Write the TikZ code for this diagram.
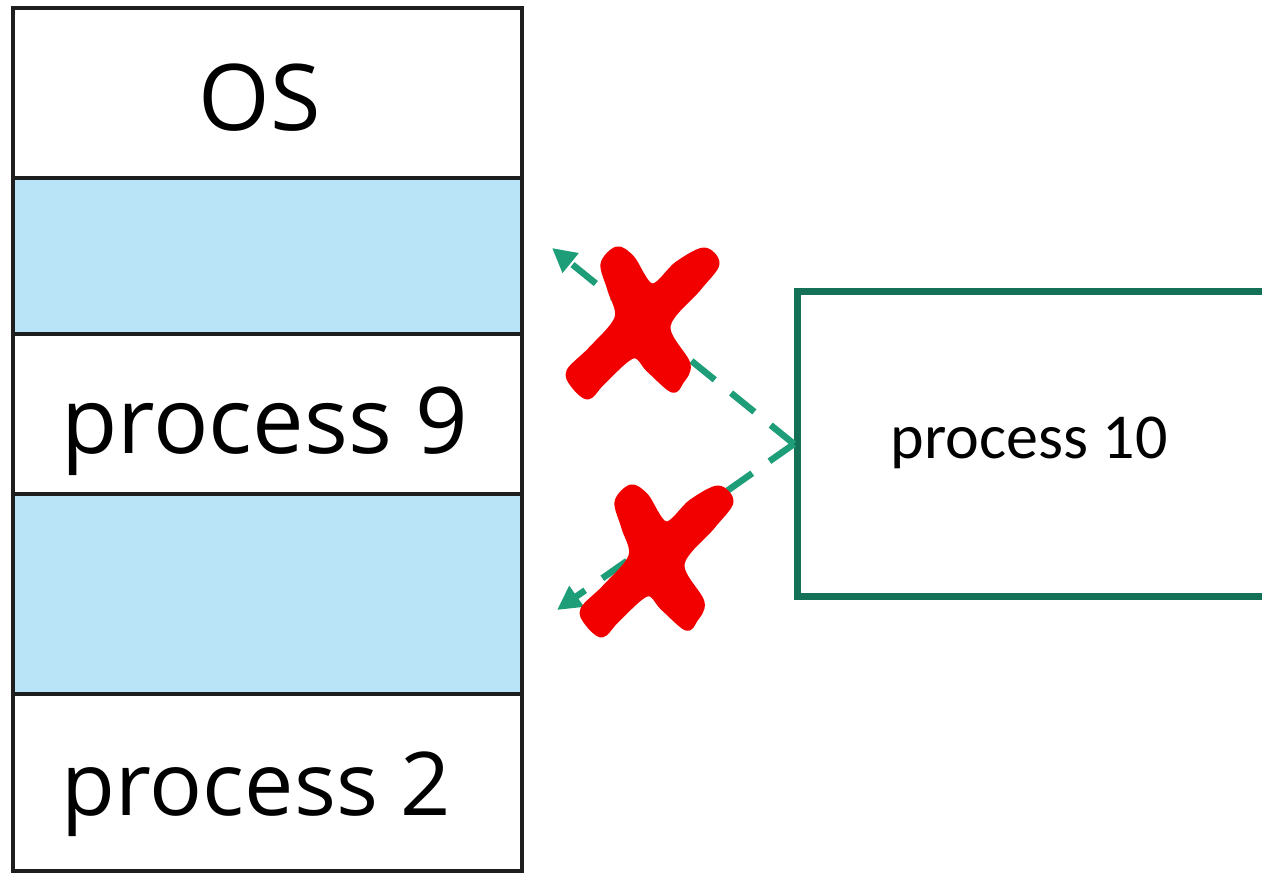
\documentclass[tikz,border=0pt]{standalone}
\usepackage{fontspec}
\setmainfont{Open Sans}
\newfontfamily\calib{Carlito}
\usetikzlibrary{arrows.meta}
\definecolor{memfill}{RGB}{185,228,247}
\definecolor{memline}{RGB}{30,30,30}
\definecolor{dashgreen}{RGB}{30,158,120}
\definecolor{boxgreen}{RGB}{20,113,88}
\definecolor{crossred}{RGB}{242,0,0}
\tikzset{
  memrow/.style={draw=memline, line width=4.5pt, rectangle, inner sep=0pt,
    minimum width=509pt},
  hole/.style={memrow, fill=memfill},
  used/.style={memrow, fill=white},
  memlabel/.style={anchor=base, inner sep=0pt, font=\fontsize{92}{96}\selectfont},
  newproc/.style={draw=boxgreen, line width=7pt, rectangle, inner sep=0pt, fill=white},
  tryarrow/.style={draw=dashgreen, line width=6.5pt, dash pattern=on 30pt off 21pt,
    -{Triangle[length=24pt,width=24pt]}},
  % brush-stroke cross, drawn around its centre
  pics/nofit/.style={code={
    \filldraw[crossred, line width=5pt, line join=round]
      plot[smooth cycle, tension=0.55] coordinates {
      (-38,-58) (-24,-73) (-9,-64) (11,-36)
      (36,-58) (63,-72) (76,-58) (58,-34) (27,4)
      (47,42) (40,60) (31,68)
      (8,48) (-8,34)
      (-38,60) (-53,75) (-68,63) (-72,49)
      (-50,27) (-24,-4)
      (-31,-32)};
  }}
}
\begin{document}
\begin{tikzpicture}[x=1pt,y=-1pt]
  \useasboundingbox (0,0) rectangle (1262,875);
  \clip (0,0) rectangle (1262,875);
  \fill[white] (0,0) rectangle (1262,875);

  % memory column
  \node[used, minimum height=170pt] (os)    at (267.5,93)    {};
  \node[hole, minimum height=156pt] (free1) at (267.5,256)   {};
  \node[used, minimum height=160pt] (p9)    at (267.5,414)   {};
  \node[hole, minimum height=200pt] (free2) at (267.5,594)   {};
  \node[used, minimum height=177pt] (p2)    at (267.5,782.5) {};

  \node[memlabel] (ostext) at (260,131) {OS};
  \node[memlabel] (p9text) at (265,453) {process 9};
  \node[memlabel, font=\fontsize{88}{92}\selectfont] (p2text) at (256.5,815) {process 2};

  % incoming process
  \node[newproc, minimum width=560pt, minimum height=305pt, anchor=north west] (p10) at (794,288) {};
  \node[anchor=base, inner sep=0pt, font=\calib\fontsize{64}{66}\selectfont] (p10text) at (1029,458) {process 10};

  % attempted placements
  \coordinate (t1) at (552,248);
  \coordinate (t2) at (557,610);
  \draw[tryarrow] (p10.west) -- (t1);
  \draw[tryarrow] (p10.west) -- (t2);

  % rejected marks
  \pic at (641,322) {nofit};
  \pic at (655,560) {nofit};
\end{tikzpicture}
\end{document}
